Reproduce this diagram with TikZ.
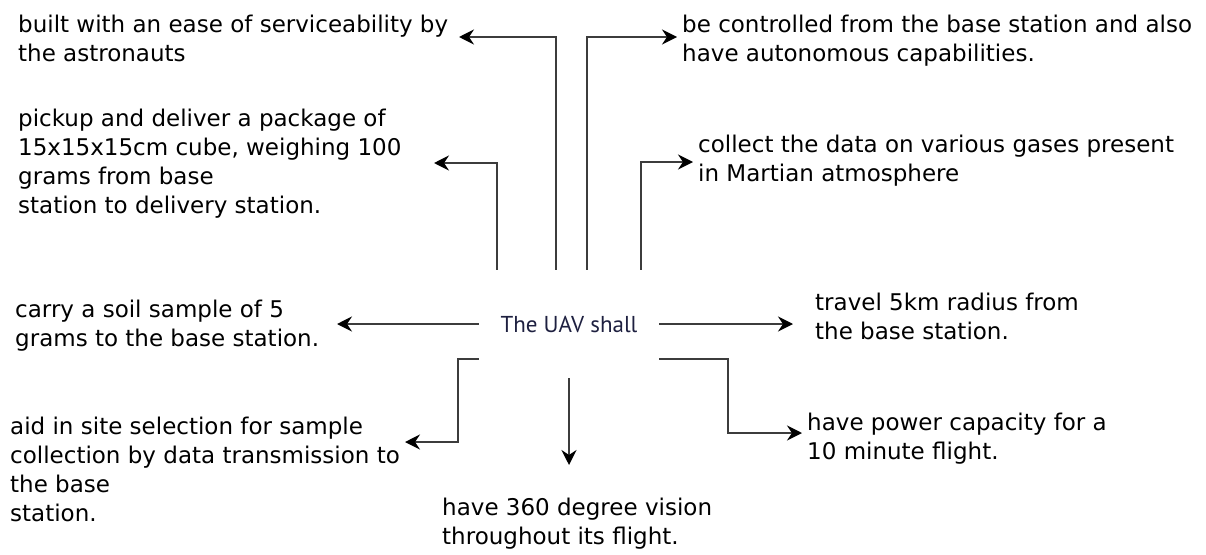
\documentclass[tikz,border=0pt]{standalone}
\usepackage{fontspec}
\setmainfont{DejaVu Sans}
\newfontfamily\uavfont{PT Sans}
\usepackage{tikz}
\usetikzlibrary{arrows,%
                arrows.meta,%
                petri}
\definecolor{edgegray}{HTML}{3C3C3C}
\definecolor{uavtext}{HTML}{1E2040}

\begin{document}
\begin{tikzpicture}[x=1pt,y=-1pt]
  \tikzstyle{LabelStyle}=[anchor=north west,inner sep=0pt,align=left,
                          font=\fontsize{23}{29}\selectfont]
  \tikzstyle{CoreStyle}=[minimum width=180pt,minimum height=108pt,inner sep=0pt,
                         text=uavtext,font=\uavfont\fontsize{23}{28}\selectfont]
  \tikzstyle{EdgeStyle}=[post,>={Stealth[length=15pt,width=15pt,inset=5pt,color=black]},
                         line width=2pt,draw=edgegray]
  \useasboundingbox (0,0) rectangle (1206,554);
  \node[CoreStyle] (UAV) at (569,324) {The UAV shall};
  \node[LabelStyle] (Service) at (18,15) {built with an ease of serviceability by\\the astronauts};
  \node[LabelStyle] (Control) at (682,15) {be controlled from the base station and also\\have autonomous capabilities.};
  \node[LabelStyle] (Package) at (18,109) {pickup and deliver a package of\\15x15x15cm cube, weighing 100\\grams from base\\station to delivery station.};
  \node[LabelStyle] (Gases) at (698,135) {collect the data on various gases present\\in Martian atmosphere};
  \node[LabelStyle] (Soil) at (15,300) {carry a soil sample of 5\\grams to the base station.};
  \node[LabelStyle] (Range) at (815,293) {travel 5km radius from\\the base station.};
  \node[LabelStyle] (Site) at (10,417) {aid in site selection for sample\\collection by data transmission to\\the base\\station.};
  \node[LabelStyle] (Power) at (807,413) {have power capacity for a\\10 minute flight.};
  \node[LabelStyle] (Vision) at (442,498) {have 360 degree vision\\throughout its flight.};
  % arrow tips, just short of the texts
  \coordinate (ServiceTip) at (458,37);
  \coordinate (ControlTip) at (678,37);
  \coordinate (PackageTip) at (433,163);
  \coordinate (GasesTip) at (694,162);
  \coordinate (SoilTip) at (336,324);
  \coordinate (RangeTip) at (794,324);
  \coordinate (SiteTip) at (404,442);
  \coordinate (VisionTip) at (569,466);
  \coordinate (PowerTip) at (803,433);
  \draw[EdgeStyle] ([xshift=-13pt]UAV.north) |- (ServiceTip);
  \draw[EdgeStyle] ([xshift=18pt]UAV.north) |- (ControlTip);
  \draw[EdgeStyle] ([xshift=-72pt]UAV.north) |- (PackageTip);
  \draw[EdgeStyle] ([xshift=72pt]UAV.north) |- (GasesTip);
  \draw[EdgeStyle] (UAV.west) -- (SoilTip);
  \draw[EdgeStyle] (UAV.east) -- (RangeTip);
  \draw[EdgeStyle] ([yshift=-35pt]UAV.west) -- ++(-21,0) |- (SiteTip);
  \draw[EdgeStyle] (UAV.south) -- (VisionTip);
  \draw[EdgeStyle] ([yshift=-35pt]UAV.east) -- ++(69,0) |- (PowerTip);
%  \draw[EdgeStyle] (UAV.south west) -- (Site);
\end{tikzpicture}
\end{document}
